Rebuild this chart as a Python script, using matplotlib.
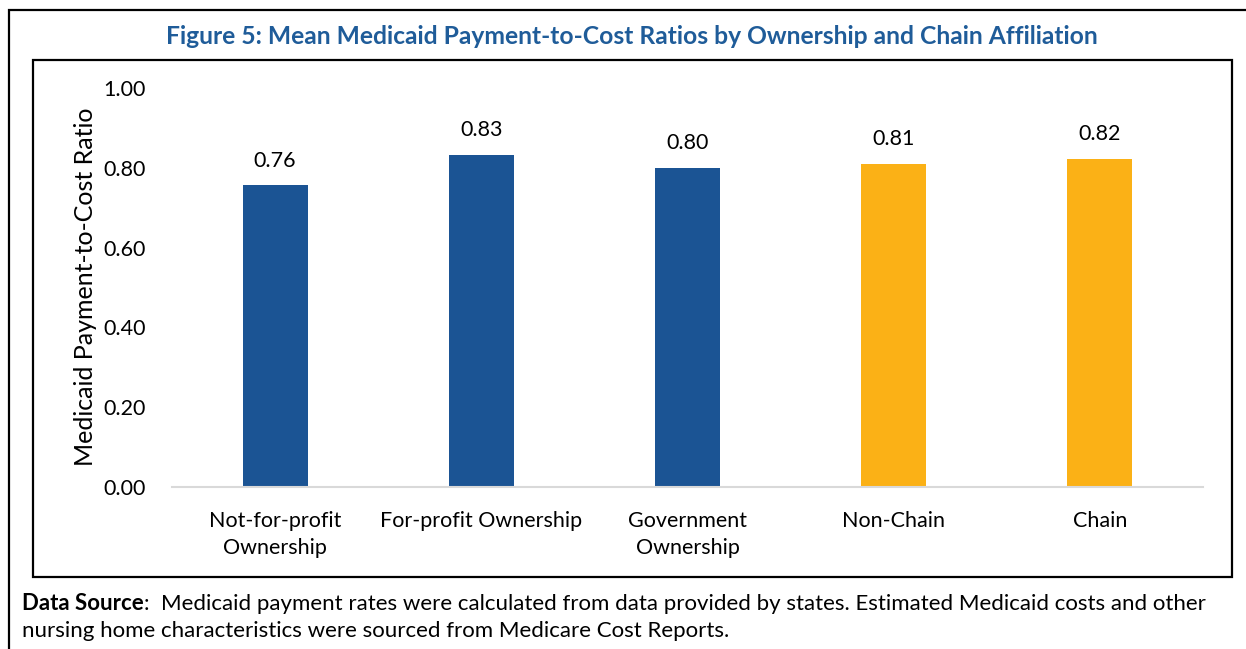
import matplotlib.pyplot as plt
from matplotlib.patches import Rectangle

categories = ["Not-for-profit\nOwnership", "For-profit Ownership", "Government\nOwnership",
              "Non-Chain", "Chain"]
ratios = [0.756, 0.832, 0.800, 0.810, 0.822]
groups = ["ownership", "ownership", "ownership", "chain", "chain"]
yticks = [0.0, 0.2, 0.4, 0.6, 0.8, 1.0]

group_colors = {"ownership": "#1B5494", "chain": "#FBB116"}

W, H = 1246, 649
plt.rcParams["font.family"] = ["Lato", "DejaVu Sans"]

fig = plt.figure(figsize=(W / 100, H / 100), dpi=100)


def fx(px):
    return px / W


def fy(py):
    return 1 - py / H


# outer frame (runs off the right and bottom edge) and inner chart frame
fig.patches.append(Rectangle((fx(9), fy(700)), fx(1300 - 9), fy(10) - fy(700),
                             transform=fig.transFigure, fill=False,
                             edgecolor="black", linewidth=1.6))
fig.patches.append(Rectangle((fx(33), fy(577)), fx(1232) - fx(33), fy(60) - fy(577),
                             transform=fig.transFigure, fill=False,
                             edgecolor="black", linewidth=1.6))

fig.text(fx(632), fy(37), "Figure 5: Mean Medicaid Payment-to-Cost Ratios by Ownership and Chain Affiliation",
         ha="center", va="center", fontsize=17.7, fontweight="bold", color="#1F5C99")

ax = fig.add_axes([fx(172), fy(487), fx(1203) - fx(172), fy(88) - fy(487)])
x = list(range(len(categories)))
colors = [group_colors[g] for g in groups]
bars = ax.bar(x, ratios, width=0.315, color=colors, zorder=2)
for b, v in zip(bars, ratios):
    ax.text(b.get_x() + b.get_width() / 2, v + 0.037, f"{v:.2f}",
            ha="center", va="bottom", fontsize=15.5)

ax.set_xlim(-0.5, len(categories) - 0.5)
ax.set_ylim(0, 1.0)
ax.set_yticks(yticks)
ax.set_yticklabels([f"{t:.2f}" for t in yticks], fontsize=15.5)
ax.set_xticks(x)
ax.set_xticklabels(categories, fontsize=15.5, linespacing=1.45, va="top")
ax.tick_params(axis="both", length=0)
ax.tick_params(axis="y", pad=19)
ax.tick_params(axis="x", pad=17)
for s in ["top", "right", "left"]:
    ax.spines[s].set_visible(False)
ax.spines["bottom"].set_color("#D9D9D9")
ax.spines["bottom"].set_linewidth(1.5)
ax.set_ylabel("Medicaid Payment-to-Cost Ratio", fontsize=18)
ax.yaxis.set_label_coords((97 - 172) / (1203 - 172), (487 - 287) / (487 - 88))

lead = fig.text(fx(22), fy(604), "Data Source", ha="left", va="center",
                fontsize=16, fontweight="bold")
fig.canvas.draw()
bb = lead.get_window_extent(renderer=fig.canvas.get_renderer())
fig.text(bb.x1 / W, fy(604),
         ":  Medicaid payment rates were calculated from data provided by states. Estimated Medicaid costs and other",
         ha="left", va="center", fontsize=16)
fig.text(fx(22), fy(631), "nursing home characteristics were sourced from Medicare Cost Reports.",
         ha="left", va="center", fontsize=16)

fig.savefig("out.png", dpi=100)
